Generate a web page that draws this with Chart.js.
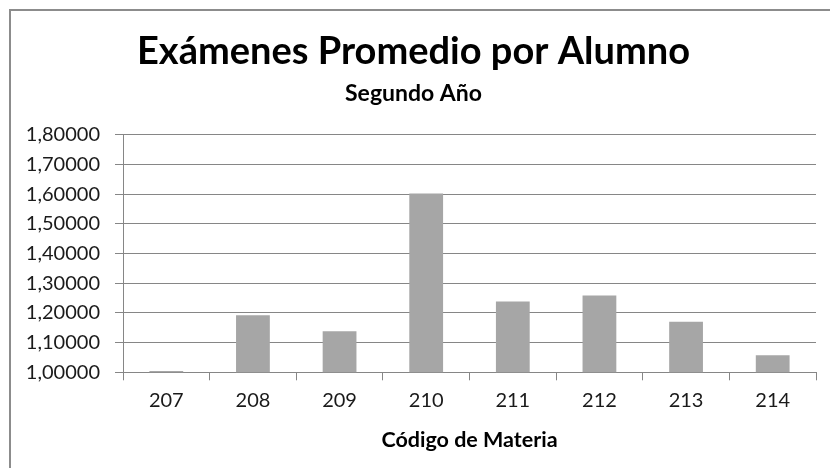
<!DOCTYPE html>
<html>
<head>
<meta charset="utf-8">
<script src="https://cdn.jsdelivr.net/npm/chart.js@4/dist/chart.umd.min.js"></script>
<style>
    html, body { margin: 0; padding: 0; background: #fff; overflow: hidden; }
    #frame {
        position: absolute;
        left: 9px;
        top: 9px;
        width: 829px;
        height: 470px;
        border-left: 2px solid #8c8c8c;
        border-top: 2px solid #8c8c8c;
    }
    canvas { display: block; }
</style>
</head>
<body>
<div id="frame"><canvas id="chart" width="829" height="457"></canvas></div>
<script>
"use strict"

const materias = ["207", "208", "209", "210", "211", "212", "213", "214"];
const promedios = [1.004, 1.192, 1.138, 1.602, 1.238, 1.259, 1.170, 1.057];

const titleText = "Exámenes Promedio por Alumno";
const subtitleText = "Segundo Año";
const xTitleText = "Código de Materia";
const yMin = 1.0;
const yMax = 1.8;
const yStep = 0.1;

const fontName = "Lato";
const gridColor = "#868686";

function formatTick(value) {
    return value.toFixed(5).replace(".", ",");
}

const data = {
    labels: materias,
    datasets: [
        {
            label: "Promedio",
            data: promedios,
            backgroundColor: "#a6a6a6",
            borderWidth: 0,
            barPercentage: 1,
            categoryPercentage: 0.39,
        },
    ]
};

const config = {
    type: "bar",
    data: data,
    options: {
        responsive: false,
        animation: false,
        devicePixelRatio: 1,
        layout: { padding: { left: 0, right: 24, top: 0, bottom: 0 } },
        plugins: {
            legend: { display: false },
            tooltip: { enabled: false },
            title: {
                display: true,
                text: titleText,
                color: "#000",
                font: { family: fontName, size: 38, weight: "bold", lineHeight: 1 },
                padding: { top: 22, bottom: 0 },
            },
            subtitle: {
                display: true,
                text: subtitleText,
                color: "#000",
                font: { family: fontName, size: 23, weight: "bold", lineHeight: 1 },
                padding: { top: 10.8, bottom: 29.9 },
            },
        },
        scales: {
            x: {
                grid: {
                    display: true,
                    drawOnChartArea: false,
                    color: gridColor,
                    tickLength: 8,
                    offset: true,
                },
                border: { display: true, color: gridColor, width: 1 },
                ticks: {
                    color: "#1a1a1a",
                    padding: 8,
                    font: { family: fontName, size: 20 },
                },
                title: {
                    display: true,
                    text: xTitleText,
                    color: "#000",
                    font: { family: fontName, size: 21.5, weight: "bold", lineHeight: 1.2 },
                    padding: { top: 0, bottom: 15.5 },
                },
                afterFit: function (scale) {
                    scale.height = 95.7;
                },
            },
            y: {
                min: yMin,
                max: yMax,
                grid: {
                    color: gridColor,
                    tickLength: 8,
                },
                border: { display: true, color: gridColor, width: 1 },
                ticks: {
                    stepSize: yStep,
                    color: "#1a1a1a",
                    padding: 15,
                    font: { family: fontName, size: 20 },
                    callback: formatTick,
                },
                afterFit: function (scale) {
                    scale.width = 112;
                },
            },
        },
    },
};

const productChart = document.getElementById("chart");
const myChart = new Chart(productChart, config);
</script>
</body>
</html>
